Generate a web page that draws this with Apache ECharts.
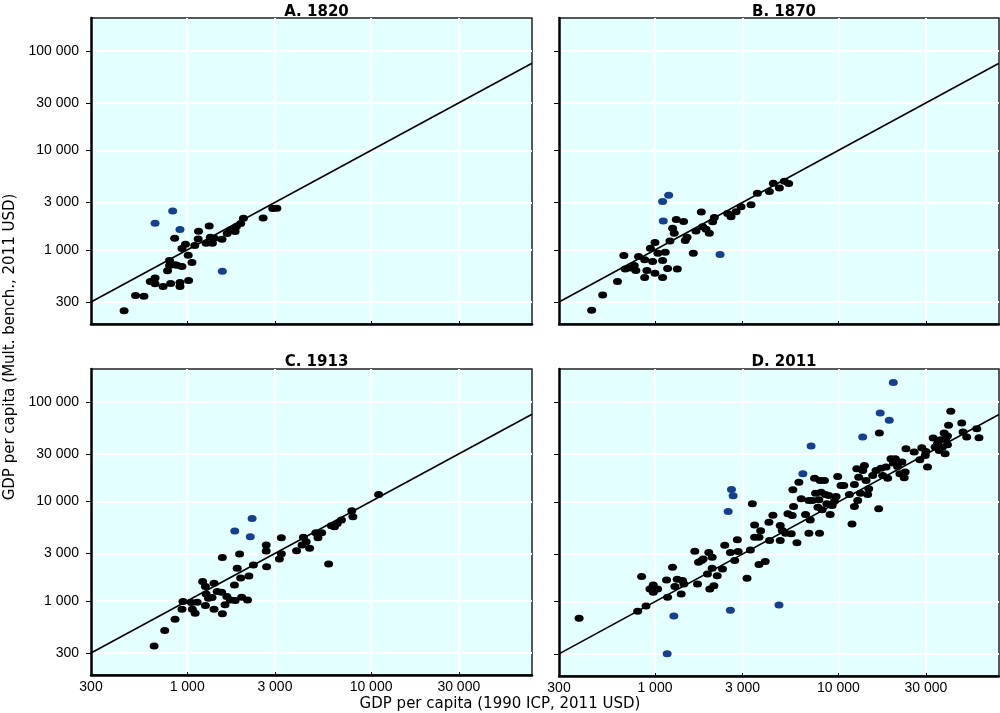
<!DOCTYPE html>
<html>
<head>
<meta charset="utf-8">
<title>GDP per capita</title>
<script src="https://cdn.jsdelivr.net/npm/echarts@6/dist/echarts.min.js"></script>
<style>
	html, body { margin: 0; padding: 0; background: #fff; }
	#chart { width: 1000px; height: 713px; }
</style>
</head>
<body>
<div id="chart"></div>
<script>
// panel titles
var panelTitles = ['A. 1820', 'B. 1870', 'C. 1913', 'D. 2011'];

// tick values (both axes log scale)
var xTicks = [300, 1000, 3000, 10000, 30000];
var yTicks = [300, 1000, 3000, 10000, 30000, 100000];
var xRange = [300, 75000];
var yRange = [180, 214000];

// [GDP 1990 ICP, GDP mult. bench.]
var a1820 = [[454,244],[524,348],[582,343],[630,481],[669,523],[669,456],[740,429],[813,459],[914,470],[914,429],
	[1018,492],[782,616],[802,697],[802,782],[859,708],[937,681],[1013,884],[1062,746],[937,1031],[979,1140],
	[855,1309],[1100,1105],[1148,1289],[1153,1538],[1268,1166],[1318,1741],[1336,1340],[1371,1166],[1407,1309],[1546,1279],
	[1651,1459],[1717,1588],[1823,1528],[1853,1714],[1954,1837],[2023,2078],[2588,2094],[2919,2600],[3075,2620],[880,700]];
var a1820Out = [[669,1853],[834,2461],[914,1600],[1553,611]];

var b1870 = [[452,247],[519,352],[625,482],[677,878],[689,641],[739,656],[771,697],[814,858],[787,621],[879,794],
	[879,528],[904,621],[944,1039],[971,764],[1000,1184],[1000,584],[1038,926],[1101,782],[1101,528],[1138,948],
	[1172,651],[1207,1230],[1248,1648],[1274,1468],[1307,2026],[1324,641],[1433,1934],[1463,1240],[1495,1339],[1618,926],
	[1674,1549],[1790,2399],[1821,1711],[1898,1610],[1978,1468],[2063,1919],[2107,2122],[2490,2326],[2598,2154],[2768,2417],
	[2946,2712],[3340,2840],[3616,3715],[4204,3861],[4420,4677],[4765,4199],[5073,4898],[5355,4642]];
var b1870Out = [[1101,3066],[1188,3548],[1110,1950],[2263,898]];

var c1913 = [[661,353],[755,504],[859,655],[937,825],[949,985],[1053,962],[1067,825],[1105,752],[1133,970],[1214,1563],
	[1257,1393],[1257,898],[1268,1175],[1306,1063],[1365,1080],[1400,1503],[1400,825],[1456,1241],[1540,1222],[1554,2722],
	[1554,741],[1607,912],[1643,1105],[1717,1023],[1823,1008],[1808,1447],[1871,2128],[1928,2964],[1954,1701],[1978,1088],
	[2128,1023],[2166,1782],[2291,2296],[2690,3646],[2690,3176],[2704,2208],[3172,2637],[3252,2984],[3252,4313],[3933,3199],
	[4214,3646],[4289,4355],[4437,3936],[4633,3374],[5010,4853],[5141,4313],[5392,4853],[5877,2351],[6086,5703],[6326,5571],
	[6546,6012],[6900,6496],[7856,8056],[7964,7015],[10990,11749]];
var c1913Out = [[1815,5035],[2254,6745],[2204,4416]];

var d2011 = [[386,681],[805,800],[894,905],[846,1782],[939,1340],[979,1469],[979,1241],[1034,1340],[1157,1650],[1172,1105],
	[1247,2208],[1285,1416],[1322,1675],[1390,1194],[1414,1625],[1438,1503],[1649,3199],[1706,1503],[1727,2483],[1794,2578],
	[1832,2677],[1933,1896],[1965,3104],[1991,1340],[2050,2785],[2050,2158],[2095,1447],[2184,1822],[2334,2128],[2401,3673],
	[2577,3104],[2722,2578],[2813,4159],[2838,3176],[3175,1714],[3311,3296],[3395,9550],[3494,5874],[3494,4416],[3690,4416],
	[3690,2351],[3767,5117],[3991,2518],[4179,6252],[4215,4094],[4395,7345],[4818,5795],[4818,4094],[4941,5155],[5152,4853],
	[5306,7588],[5532,4775],[5600,7295],[5694,8973],[5646,13183],[5940,3880],[6086,15736],[6267,10715],[6617,7464],[6901,4853],
	[6901,10300],[7020,6590],[7200,10300],[7413,17260],[7505,12218],[7727,8837],[7824,10480],[7889,4853],[7945,16362],[8044,12500],
	[8150,8318],[8390,16362],[8494,11850],[8648,9550],[8857,11590],[9010,7464],[9240,9190],[9510,10160],[9710,11320],[9910,17950],
	[10330,14590],[10690,14590],[11480,11850],[11860,6012],[12220,14930],[12220,8973],[12590,21420],[12740,10300],[12900,17660],[13180,12218],
	[13560,20610],[13850,23160],[14140,16362],[14430,11850],[14620,13490],[15380,18370],[16030,20610],[16570,8510],[16710,48860],[17060,21730],
	[17420,18370],[18170,22270],[18550,17260],[19340,26970],[19910,24430],[20400,26970],[21000,22640],[21620,19090],[22170,25000],[22830,17420],
	[23110,19860],[23340,34030],[25880,31480],[27770,26370],[28480,34850],[29730,29180],[29950,31980],[30580,22270],[32830,43550],[33660,35340],
	[34650,38190],[35390,32730],[36140,41870],[36900,35340],[37680,48860],[38160,30340],[38480,42880],[39290,45620],[39290,37300],[39810,58340],
	[40960,80540],[46990,61520],[47780,50000],[50000,44570],[56740,53950],[58340,43850]];
var d2011Out = [[19910,156300],[16890,77620],[18920,65450],[13560,44570],[7096,36220],[6400,19090],[2612,13300],[2667,11480],
	[2506,8000],[2577,818],[4742,926],[1268,718],[1166,301]];

var panels = [
	{ dots: a1820, out: a1820Out },
	{ dots: b1870, out: b1870Out },
	{ dots: c1913, out: c1913Out },
	{ dots: d2011, out: d2011Out }
];

var L = Math.log10;
function toLog(arr) {
	return arr.map(function (p) { return [L(p[0]), L(p[1])]; });
}
function fmt(v) {
	var n = Math.round(Math.pow(10, v));
	return String(n).replace(/\B(?=(\d{3})+(?!\d))/g, ' ');
}

var boxes = [
	{ left: 91, top: 18, width: 441, height: 306 },
	{ left: 559, top: 18, width: 440, height: 306 },
	{ left: 91, top: 369, width: 441, height: 306 },
	{ left: 559, top: 369, width: 440, height: 307 }
];

var font = 'Liberation Sans, Arial, sans-serif';
var wide = 'DejaVu Sans, sans-serif';
var grid = [], xAxis = [], yAxis = [], series = [], title = [];

boxes.forEach(function (b, i) {
	grid.push({
		left: b.left, top: b.top, width: b.width, height: b.height,
		show: true, backgroundColor: '#e3ffff', borderColor: '#222', borderWidth: 1.5
	});
	title.push({
		text: panelTitles[i],
		left: b.left + b.width / 2, top: i >= 2 ? 350 : 0, textAlign: 'center',
		textStyle: { fontFamily: wide, fontSize: 15, fontWeight: 'bold', color: '#000' }
	});

	xAxis.push({
		gridIndex: i, type: 'value',
		min: L(xRange[0]), max: L(xRange[1]),
		axisLine: { show: true, onZero: false, lineStyle: { color: '#000', width: 2.5 } },
		axisTick: { show: true, inside: true, length: 3, customValues: xTicks.map(L), lineStyle: { color: '#000' } },
		axisLabel: {
			show: i >= 2, customValues: xTicks.map(L), formatter: fmt, margin: 5,
			fontFamily: font, fontSize: 14, color: '#000'
		},
		splitLine: { show: true, lineStyle: { color: '#fff', width: 2 } }
	});
	yAxis.push({
		gridIndex: i, type: 'value',
		min: L(yRange[0]), max: L(yRange[1]),
		axisLine: { show: true, onZero: false, lineStyle: { color: '#000', width: 2.5 } },
		axisTick: { show: true, inside: false, length: 5, customValues: yTicks.map(L), lineStyle: { color: '#000' } },
		axisLabel: {
			show: i % 2 === 0, customValues: yTicks.map(L), formatter: fmt, margin: 12,
			fontFamily: font, fontSize: 14, color: '#000'
		},
		splitLine: { show: true, lineStyle: { color: '#fff', width: 2 } }
	});

	// 45 degree line
	series.push({
		type: 'line', xAxisIndex: i, yAxisIndex: i,
		data: [[L(xRange[0]), L(xRange[0])], [L(xRange[1]), L(xRange[1])]],
		symbol: 'none', silent: true, z: 3,
		lineStyle: { color: '#000', width: 1.6 }
	});
	series.push({
		type: 'scatter', xAxisIndex: i, yAxisIndex: i,
		data: toLog(panels[i].dots),
		symbol: 'circle', symbolSize: [9, 7], z: 4,
		itemStyle: { color: '#000', opacity: 1 }
	});
	series.push({
		type: 'scatter', xAxisIndex: i, yAxisIndex: i,
		data: toLog(panels[i].out),
		symbol: 'circle', symbolSize: [9, 7], z: 4,
		itemStyle: { color: '#163f8c', opacity: 1 }
	});
});

var chart = echarts.init(document.getElementById('chart'));
chart.setOption({
	animation: false,
	title: title,
	grid: grid,
	xAxis: xAxis,
	yAxis: yAxis,
	series: series,
	graphic: [
		{
			type: 'text', left: 'center', top: 697,
			style: { text: 'GDP per capita (1990 ICP, 2011 USD)', fontFamily: wide, fontSize: 15, fill: '#000' }
		},
		{
			type: 'text', x: 10, y: 347, rotation: Math.PI / 2,
			style: {
				text: 'GDP per capita (Mult. bench., 2011 USD)', fontFamily: wide, fontSize: 15, fill: '#000',
				align: 'center', verticalAlign: 'middle'
			}
		}
	]
});
</script>
</body>
</html>
